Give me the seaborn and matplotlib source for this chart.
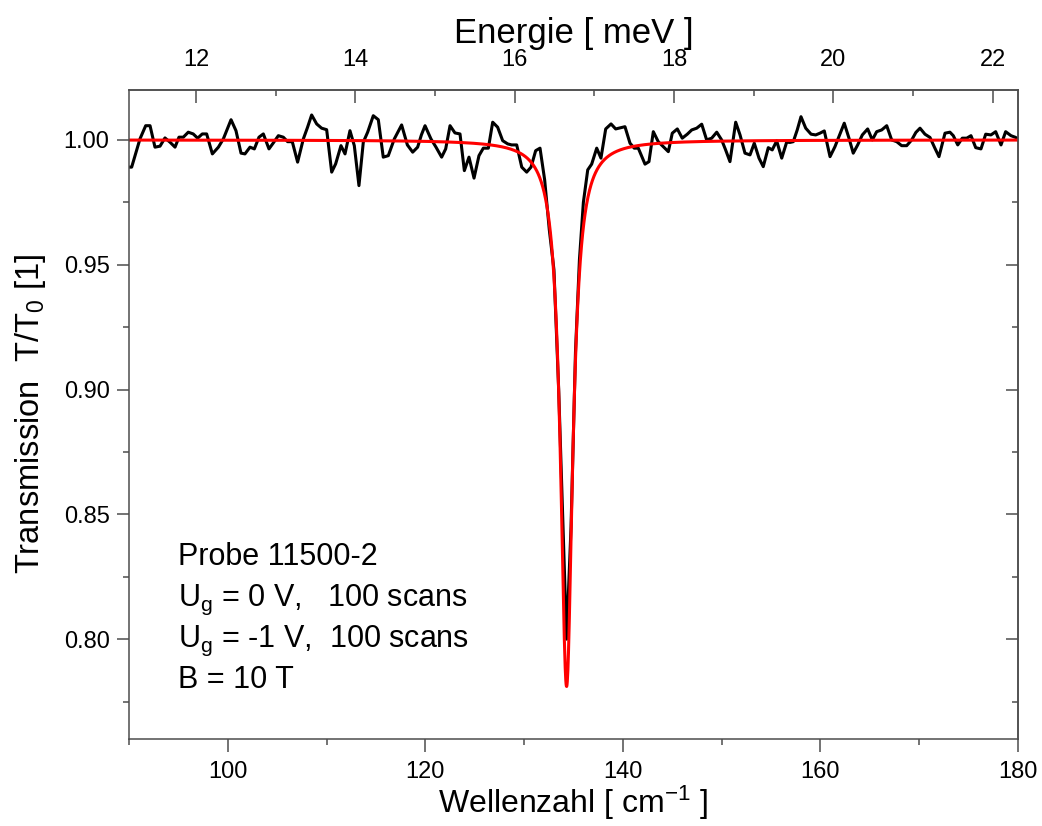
import numpy as np
import pandas as pd
import matplotlib
matplotlib.use("Agg")
import matplotlib.pyplot as plt
import seaborn as sns
from matplotlib.ticker import MultipleLocator, FormatStrFormatter, FixedLocator

# ---------------- data ----------------
wavenumber = [
    90.00, 90.27, 91.11, 91.69, 92.13, 92.63, 93.14, 93.64, 94.15, 94.66,
    95.06, 95.50, 96.00, 96.50, 96.95, 97.42, 97.86, 98.44, 99.05, 99.55,
    100.33, 100.83, 101.34, 101.74, 102.25, 102.69, 103.16, 103.60, 104.17, 104.61,
    105.12, 105.62, 106.06, 106.53, 107.07, 107.65, 108.07, 108.49, 109.00, 109.50,
    110.01, 110.52, 110.92, 111.46, 111.87, 112.37, 112.81, 113.28, 113.72, 114.16,
    114.73, 115.24, 115.74, 116.25, 116.86, 117.20, 117.60, 118.18, 118.72, 119.22,
    119.60, 119.97, 120.57, 121.08, 121.65, 122.06, 122.50, 123.00, 123.51, 123.95,
    124.42, 124.93, 125.43, 125.87, 126.38, 126.82, 127.32, 127.83, 128.34, 128.74,
    129.25, 129.76, 130.26, 130.70, 131.17, 131.61, 132.08, 132.55, 133.02, 133.50,
    133.90, 134.30, 134.75, 135.20, 135.60, 136.00, 136.44, 136.84, 137.35, 137.78,
    138.26, 138.80, 139.27, 139.81, 140.21, 140.72, 141.15, 141.56, 142.24, 142.64,
    143.08, 143.58, 144.09, 144.60, 145.00, 145.51, 146.01, 146.52, 146.97, 147.47,
    147.98, 148.48, 148.99, 149.50, 150.00, 150.40, 150.84, 151.42, 151.86, 152.36,
    152.87, 153.30, 153.78, 154.21, 154.72, 155.12, 155.57, 156.08, 156.58, 156.92,
    157.25, 157.65, 158.03, 158.51, 159.05, 159.52, 159.95, 160.39, 160.97, 161.47,
    161.94, 162.41, 162.89, 163.32, 163.77, 164.24, 164.78, 165.25, 165.69, 166.20,
    166.71, 167.21, 167.72, 168.22, 168.73, 169.24, 169.66, 170.08, 170.58, 171.09,
    171.55, 172.00, 172.61, 173.11, 173.45, 173.90, 174.36, 174.81, 175.24, 175.72,
    176.25, 176.73, 177.26, 177.74, 178.28, 178.75, 179.29, 179.77, 180.00,
]
transmission = [
    0.9891, 0.9891, 1.0004, 1.0057, 1.0057, 0.9971, 0.9975, 1.0008, 0.9991, 0.9971,
    1.0011, 1.0011, 1.0031, 1.0024, 1.0007, 1.0024, 1.0024, 0.9944, 0.9971, 1.0004,
    1.0081, 1.0037, 0.9947, 0.9944, 0.9971, 0.9964, 1.0011, 1.0024, 0.9964, 0.9988,
    1.0017, 1.0011, 0.9993, 0.9993, 0.9911, 1.0004, 1.0050, 1.0100, 1.0064, 1.0047,
    1.0041, 0.9871, 0.9904, 0.9977, 0.9944, 1.0037, 0.9977, 0.9817, 0.9991, 1.0031,
    1.0097, 1.0081, 0.9931, 0.9937, 1.0004, 1.0030, 1.0060, 0.9980, 0.9951, 0.9971,
    1.0020, 1.0057, 1.0004, 0.9971, 0.9931, 0.9964, 1.0057, 1.0028, 1.0024, 0.9877,
    0.9931, 0.9847, 0.9937, 0.9967, 0.9967, 1.0071, 1.0051, 0.9997, 0.9984, 0.9980,
    0.9980, 0.9891, 0.9871, 0.9891, 0.9957, 0.9967, 0.9840, 0.9640, 0.9480, 0.9000,
    0.8500, 0.8000, 0.8450, 0.9150, 0.9520, 0.9750, 0.9880, 0.9903, 0.9967, 0.9927,
    1.0044, 1.0064, 1.0044, 1.0049, 1.0053, 0.9987, 0.9967, 0.9967, 0.9903, 0.9913,
    1.0033, 0.9993, 0.9973, 0.9953, 1.0027, 1.0044, 1.0007, 1.0023, 1.0040, 1.0047,
    1.0063, 1.0000, 1.0007, 1.0031, 1.0000, 0.9960, 0.9913, 1.0071, 1.0020, 0.9947,
    0.9940, 0.9987, 0.9927, 0.9893, 0.9969, 0.9960, 0.9996, 0.9927, 0.9991, 0.9990,
    0.9993, 1.0040, 1.0093, 1.0047, 1.0023, 1.0020, 1.0027, 1.0036, 0.9933, 0.9973,
    1.0020, 1.0067, 1.0007, 0.9947, 0.9980, 1.0020, 1.0044, 1.0000, 1.0033, 1.0040,
    1.0057, 1.0000, 0.9993, 0.9977, 0.9977, 1.0000, 1.0030, 1.0047, 1.0023, 1.0010,
    0.9970, 0.9933, 1.0027, 1.0031, 1.0017, 0.9980, 1.0007, 1.0007, 1.0017, 0.9969,
    0.9964, 1.0023, 1.0020, 1.0033, 0.9980, 1.0033, 1.0017, 1.0010, 1.0000,
]

# Lorentzian fit parameters (red curve)
fit_center = 134.30      # cm^-1
fit_hwhm = 0.74          # cm^-1
fit_depth = 0.219
fit_baseline = 1.0

CM_PER_MEV = 8.0655
x_ticks = [100, 120, 140, 160, 180]
energy_ticks = [12, 14, 16, 18, 20, 22]
y_ticks = [0.80, 0.85, 0.90, 0.95, 1.00]

annotation_lines = [
    "Probe 11500-2",
    r"U$_\mathregular{g}$ = 0 V,   100 scans",
    r"U$_\mathregular{g}$ = -1 V,  100 scans",
    "B = 10 T",
]

# ---------------- build frames ----------------
df_meas = pd.DataFrame({"Wellenzahl": wavenumber, "T": transmission})
fit_x = np.linspace(90, 180, 3001)
fit_y = fit_baseline - fit_depth / (1.0 + ((fit_x - fit_center) / fit_hwhm) ** 2)
df_fit = pd.DataFrame({"Wellenzahl": fit_x, "T": fit_y})

# ---------------- style ----------------
sns.set_style("ticks")
plt.rcParams["font.family"] = ["Liberation Sans", "DejaVu Sans"]
plt.rcParams["mathtext.fontset"] = "custom"
plt.rcParams["mathtext.rm"] = "Liberation Sans"
plt.rcParams["mathtext.it"] = "Liberation Sans"
plt.rcParams["mathtext.default"] = "regular"
plt.rcParams["text.color"] = "black"
plt.rcParams["axes.labelcolor"] = "black"
plt.rcParams["xtick.labelcolor"] = "black"
plt.rcParams["ytick.labelcolor"] = "black"

spine_col = "#4d4d4d"

fig = plt.figure(figsize=(10.42, 8.26), dpi=100)
ax = fig.add_axes([129 / 1042, 1 - 739 / 826, 889 / 1042, 649 / 826])

sns.lineplot(data=df_meas, x="Wellenzahl", y="T", ax=ax, color="black",
             linewidth=2.2, estimator=None, sort=False)
sns.lineplot(data=df_fit, x="Wellenzahl", y="T", ax=ax, color="#ff0000",
             linewidth=2.2, estimator=None, sort=False)

ax.set_xlim(90, 180)
ax.set_ylim(0.76, 1.02)

ax.xaxis.set_major_locator(FixedLocator(x_ticks))
ax.xaxis.set_minor_locator(MultipleLocator(10))
ax.yaxis.set_major_locator(FixedLocator(y_ticks))
ax.yaxis.set_minor_locator(MultipleLocator(0.025))
ax.yaxis.set_major_formatter(FormatStrFormatter("%.2f"))

for s in ax.spines.values():
    s.set_visible(True)
    s.set_color(spine_col)
    s.set_linewidth(1.1)

ax.tick_params(which="both", direction="out", top=False, right=False,
               color=spine_col, width=1.1, labelsize=17, labelcolor="black")
ax.tick_params(axis="x", which="both", pad=7)
ax.tick_params(axis="y", which="both", pad=5)
ax.tick_params(which="major", length=9)
ax.tick_params(which="minor", length=4.5)

ax.set_xlabel(r"Wellenzahl [ cm$^{-1}$ ]", fontsize=23, labelpad=0,
              color="black")
ax.set_ylabel(r"Transmission  T/T$_0$ [1]", fontsize=23.5, labelpad=11,
              color="black")

# top energy axis
secx = ax.secondary_xaxis("top", functions=(lambda x: x / CM_PER_MEV,
                                            lambda e: e * CM_PER_MEV))
secx.xaxis.set_major_locator(FixedLocator(energy_ticks))
secx.xaxis.set_minor_locator(MultipleLocator(1))
secx.tick_params(which="both", direction="in", color=spine_col, width=1.1,
                 labelsize=17, pad=14, labelcolor="black")
secx.tick_params(which="major", length=9)
secx.tick_params(which="minor", length=4.5)
secx.spines["top"].set_color(spine_col)
secx.spines["top"].set_linewidth(1.1)
secx.set_xlabel("Energie [ meV ]", fontsize=25, labelpad=4, color="black")

# right axis: inward ticks, no labels
secy = ax.secondary_yaxis("right")
secy.yaxis.set_major_locator(FixedLocator(y_ticks))
secy.yaxis.set_minor_locator(MultipleLocator(0.025))
secy.tick_params(which="both", direction="in", color=spine_col, width=1.1,
                 labelright=False)
secy.tick_params(which="major", length=9)
secy.tick_params(which="minor", length=4.5)
secy.spines["right"].set_color(spine_col)
secy.spines["right"].set_linewidth(1.1)

baselines = [0.268, 0.205, 0.142, 0.0786]
for txt, yb in zip(annotation_lines, baselines):
    ax.text(0.055, yb, txt, transform=ax.transAxes, fontsize=22,
            ha="left", va="baseline", color="black")

fig.savefig("out.png", dpi=100)
